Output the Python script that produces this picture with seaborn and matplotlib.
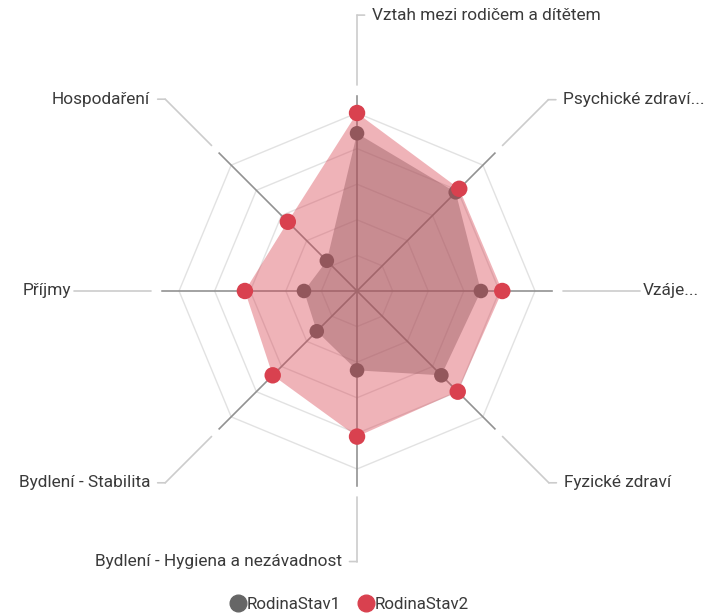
import numpy as np
import matplotlib.pyplot as plt
import seaborn as sns
from matplotlib.lines import Line2D

# ---------------------------
# DATA
# ---------------------------
categories = ["Vztah mezi rodičem a dítětem", "Psychické zdraví...", "Vzáje...",
              "Fyzické zdraví", "Bydlení - Hygiena a nezávadnost",
              "Bydlení - Stabilita", "Příjmy", "Hospodaření"]
series_names = ["RodinaStav1", "RodinaStav2"]
stav1 = [4.43, 3.92, 3.48, 3.35, 2.23, 1.60, 1.49, 1.20]
stav2 = [5.00, 4.06, 4.08, 4.00, 4.09, 3.35, 3.15, 2.75]
ring_levels = [1, 2, 3, 4, 5]

# ---------------------------
# STYLE
# ---------------------------
sns.set_theme(style="white")
plt.rcParams['font.family'] = ['Roboto', 'DejaVu Sans']

gray = "#666666"
red = "#d9414f"
text_col = "#3a3a3a"

n = len(categories)
theta = np.arange(n) * 2 * np.pi / n
theta_c = np.append(theta, theta[0])

fig = plt.figure(figsize=(7.15, 6.13), dpi=100)
ax = fig.add_axes([0.2255, 0.2059, 0.5477, 0.6388], projection="polar")
ax.set_theta_zero_location("N")
ax.set_theta_direction(-1)
ax.set_ylim(0, 5.5)
ax.grid(False)
ax.set_xticks([])
ax.set_yticks([])
ax.spines["polar"].set_visible(False)
ax.set_facecolor("none")

# grid rings (octagons)
for lv in ring_levels:
    ax.plot(theta_c, [lv] * (n + 1), color="#e2e2e2", lw=1, zorder=1)
# spokes
for t in theta:
    ax.plot([t, t], [0, 5.5], color="#929292", lw=1.2, zorder=1)

# series 1
v1 = np.append(stav1, stav1[0])
ax.fill(theta_c, v1, color=gray, alpha=0.42, lw=0, zorder=2)
sns.scatterplot(x=theta, y=stav1, ax=ax, color=gray, s=110, edgecolor="none",
                zorder=3, legend=False, clip_on=False)

# series 2
v2 = np.append(stav2, stav2[0])
ax.fill(theta_c, v2, color=red, alpha=0.40, lw=0, zorder=4)
sns.scatterplot(x=theta, y=stav2, ax=ax, color=red, s=140, edgecolor="none",
                zorder=5, legend=False, clip_on=False)

# leader lines + labels
elbow = [7.75, 7.6, 7.95, 7.62, 7.6, 7.62, 7.95, 7.62]
for t, lab, re in zip(theta, categories, elbow):
    ax.plot([t, t], [5.78, re], color="#cccccc", lw=1.2, zorder=1, clip_on=False)
    right = np.sin(t) > 0.1 or abs(t) < 1e-6
    if abs(np.sin(t)) > 0.99:
        dx = 3 if right else -3
        arrow = None
    else:
        dx = 15 if right else -15
        arrow = dict(arrowstyle="-", color="#cccccc", lw=1.2, shrinkA=3, shrinkB=0)
    ax.annotate(lab, xy=(t, re), xytext=(dx, 0), textcoords="offset pixels",
                ha="left" if right else "right", va="center", fontsize=12.4,
                color=text_col, arrowprops=arrow, annotation_clip=False)

# legend
handles = [Line2D([], [], marker="o", ls="none", color=c, markersize=12)
           for c in [gray, red]]
fig.legend(handles, series_names, loc="center", bbox_to_anchor=(0.489, 0.014),
           ncol=2, frameon=False, fontsize=12.2, handlelength=0.9,
           handletextpad=0.1, columnspacing=1.0, labelcolor=text_col)

fig.savefig("out.png", dpi=100)
